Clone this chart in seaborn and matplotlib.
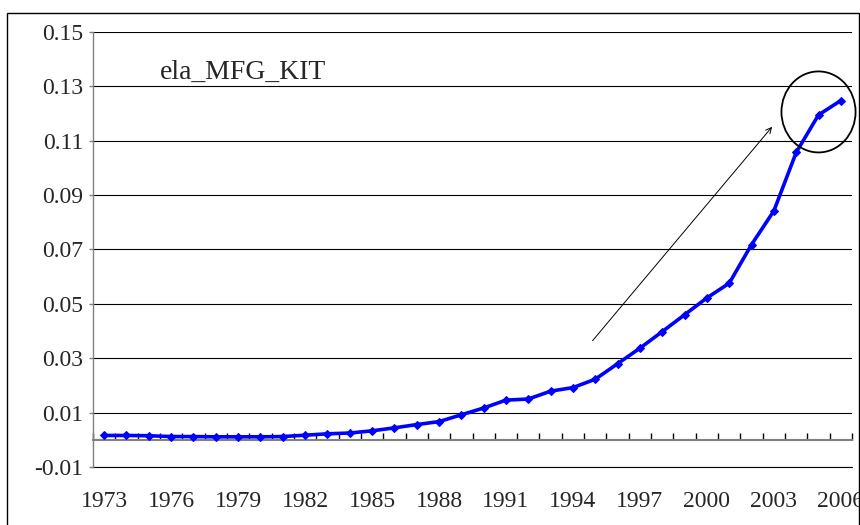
import numpy as np
import pandas as pd
import matplotlib
matplotlib.use('Agg')
import matplotlib.pyplot as plt
import matplotlib.patches as mpatches
import seaborn as sns

# data
years = list(range(1973, 2007))
ela_values = [0.0016, 0.0016, 0.0015, 0.0012, 0.0012, 0.0011, 0.0011, 0.0011,
              0.0012, 0.0017, 0.0022, 0.0025, 0.0033, 0.0044, 0.0056, 0.0067,
              0.0092, 0.0117, 0.0146, 0.0150, 0.0179, 0.0192, 0.0223, 0.0280,
              0.0337, 0.0398, 0.0460, 0.0522, 0.0576, 0.0718, 0.0842, 0.1057,
              0.1195, 0.1248]
y_ticks = [-0.01, 0.01, 0.03, 0.05, 0.07, 0.09, 0.11, 0.13, 0.15]
label_years = years[::3]
series_name = 'ela_MFG_KIT'

df = pd.DataFrame({'year': years, 'value': ela_values})

sns.set_style('white')
plt.rcParams['font.family'] = ['Liberation Serif', 'DejaVu Serif']

fig = plt.figure(figsize=(8.6, 5.25), dpi=100)
ax = fig.add_axes([93/860, 1 - 467/525, (852 - 93)/860, (467 - 32)/525])

sns.lineplot(data=df, x='year', y='value', ax=ax, color='#0000ff', linewidth=2.6,
             marker='D', markersize=4.5, markeredgecolor='#0000ff', zorder=5)

ax.set_xlim(years[0] - 0.5, years[-1] + 0.5)
ax.set_ylim(-0.01, 0.15)
ax.set_yticks(y_ticks)
ax.set_yticklabels(['%.2f' % t for t in y_ticks], fontsize=17)
ax.yaxis.grid(True, color='black', linewidth=0.8)
ax.xaxis.grid(False)
ax.axhline(y_ticks[0], color='black', linewidth=0.8, clip_on=False)
ax.set_xlabel('')
ax.set_ylabel('')

# category axis sits on the zero line, tick marks between categories
ax.spines['bottom'].set_position(('data', 0))
ax.spines['bottom'].set_color('#808080')
ax.spines['bottom'].set_linewidth(1.5)
ax.spines['left'].set_color('#808080')
ax.spines['left'].set_linewidth(1.0)
ax.spines['top'].set_visible(False)
ax.spines['right'].set_visible(False)

ax.set_xticks(label_years)
ax.set_xticklabels([str(y) for y in label_years], fontsize=17)
ax.set_xticks([y - 0.5 for y in years] + [years[-1] + 0.5], minor=True)
ax.tick_params(axis='x', which='major', bottom=True, length=0, pad=37)
ax.tick_params(axis='x', which='minor', bottom=True, direction='in', length=5,
               width=1, color='black')
ax.tick_params(axis='y', which='major', direction='out', length=3, width=1,
               color='#808080', left=True, pad=4)

ax.text(0.088, 0.908, series_name, transform=ax.transAxes, fontsize=20,
        va='center', ha='left')

# arrow and circle highlighting the recent years
ax.annotate('', xy=(2003.0, 0.1159), xytext=(1994.8, 0.0357),
            arrowprops=dict(arrowstyle='->', color='black', lw=0.7))
ax.add_patch(mpatches.Ellipse((2005.0, 0.1206), 3.32, 0.0298, fill=False,
                              edgecolor='black', linewidth=1.3, zorder=6,
                              clip_on=False))

# outer chart border
fig.patches.append(mpatches.Rectangle((7/860, -0.01), 852/860, 1.01 - 13/525,
                                      transform=fig.transFigure, fill=False,
                                      edgecolor='black', linewidth=1.0))

fig.savefig('out.png', dpi=100)
